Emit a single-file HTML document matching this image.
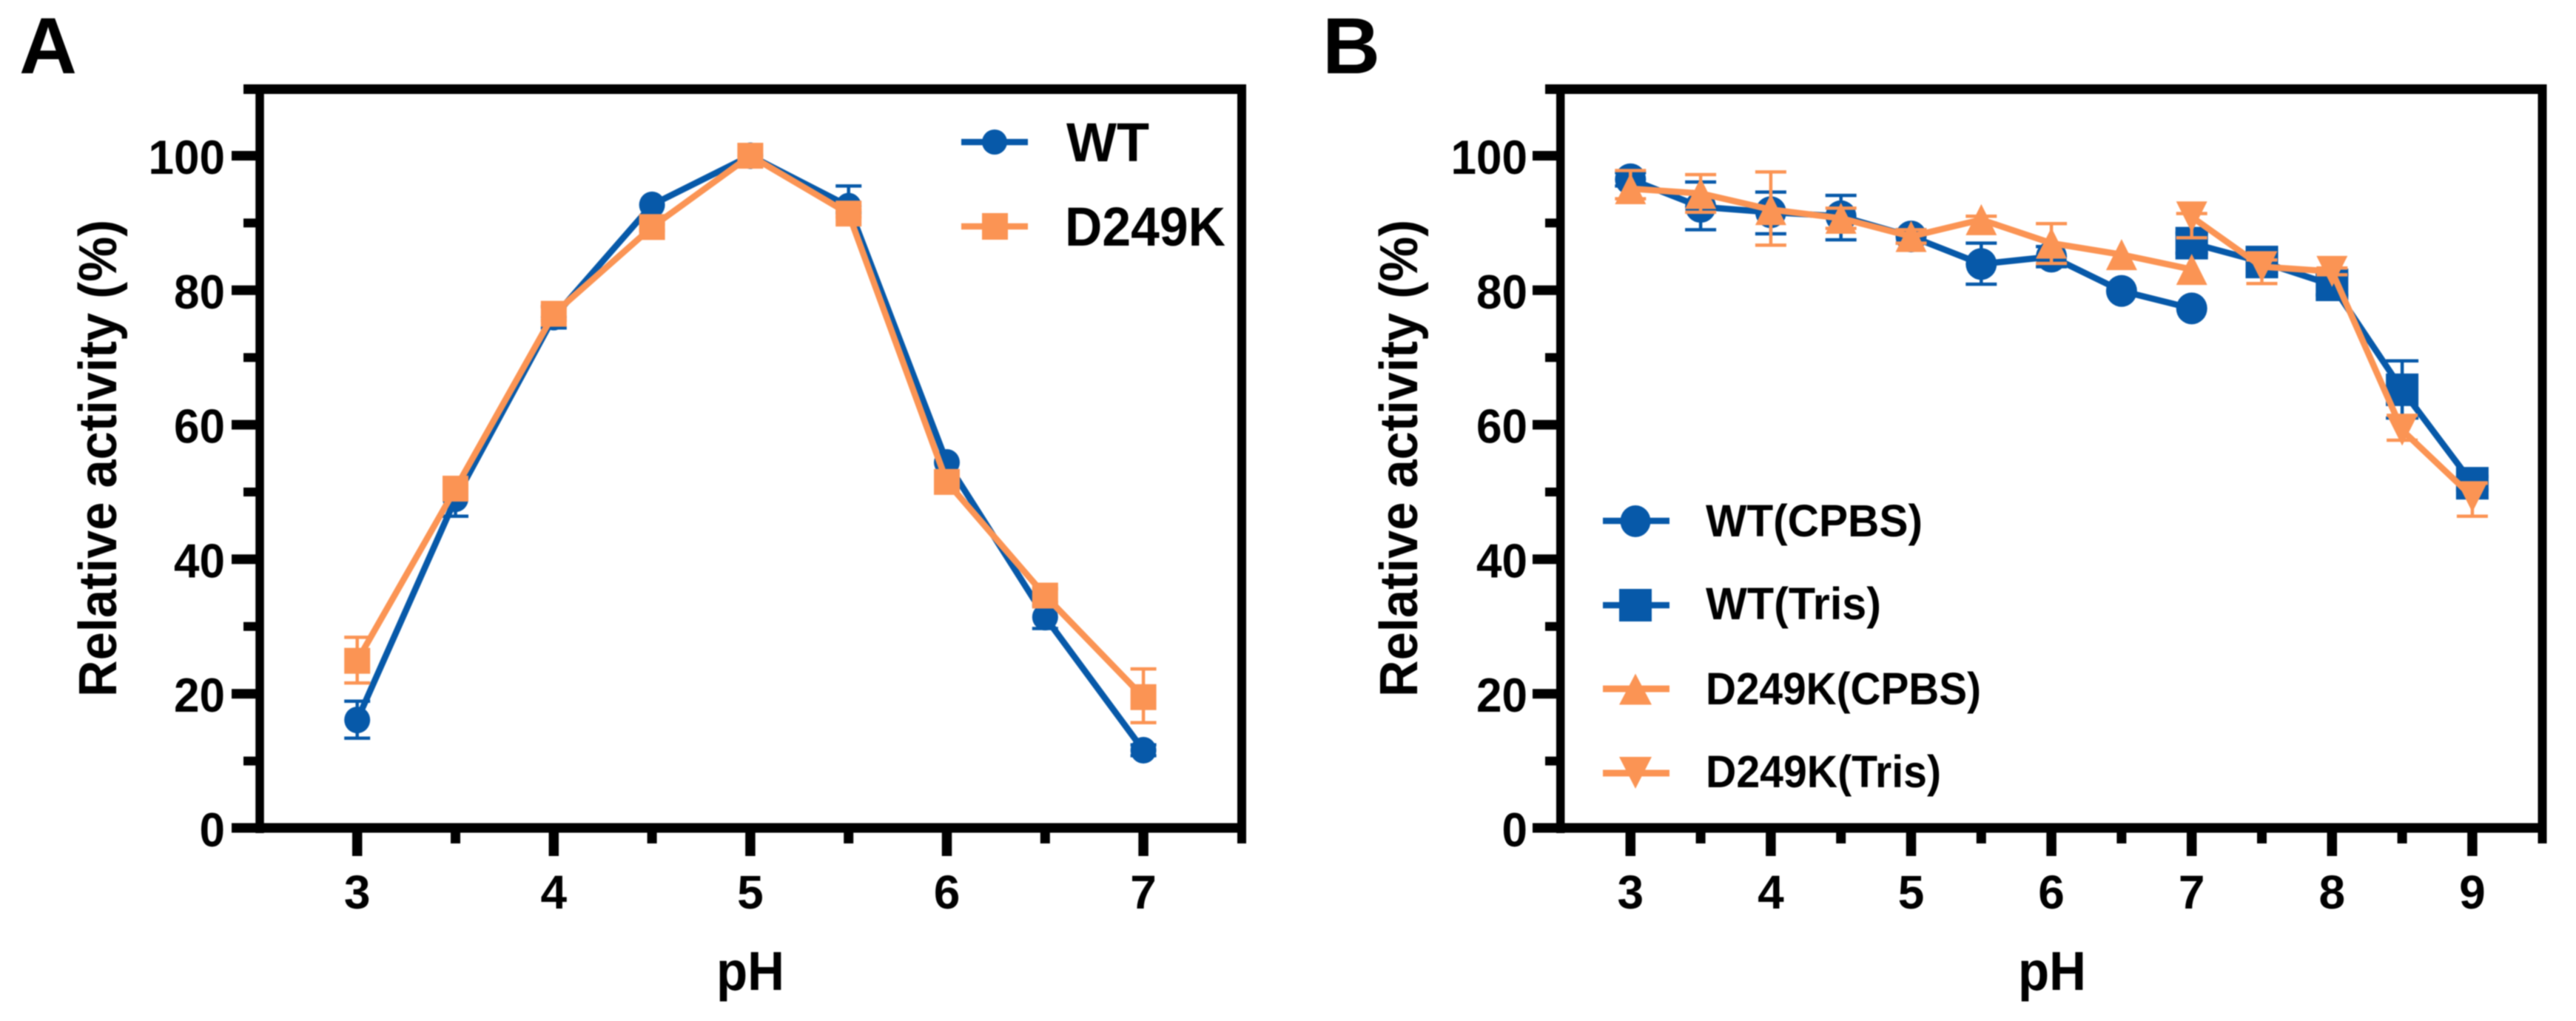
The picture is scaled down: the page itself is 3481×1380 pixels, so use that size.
<!DOCTYPE html>
<html lang="en">
<head>
<meta charset="utf-8">
<title>Relative activity vs pH</title>
<style>
  html, body { margin: 0; padding: 0; background: #ffffff; }
  svg { display: block; filter: blur(0.7px); }
  text { font-family: "Liberation Sans", sans-serif; font-weight: 700; fill: #000000; }
</style>
</head>
<body>
<svg id="figure" xmlns="http://www.w3.org/2000/svg" width="3481" height="1380" viewBox="0 0 3481 1380">
  <rect x="0" y="0" width="3481" height="1380" fill="#ffffff"/>

  <text x="26" y="99" font-size="108">A</text>
  <text x="1787" y="99" font-size="108">B</text>

  <text transform="translate(157,942) rotate(-90)" font-size="72" textLength="645" lengthAdjust="spacingAndGlyphs">Relative activity (%)</text>
  <text transform="translate(1915,942) rotate(-90)" font-size="72" textLength="645" lengthAdjust="spacingAndGlyphs">Relative activity (%)</text>

  <text x="968" y="1338" font-size="74" textLength="92" lengthAdjust="spacingAndGlyphs">pH</text>
  <text x="2727" y="1338" font-size="74" textLength="92" lengthAdjust="spacingAndGlyphs">pH</text>

  <g id="panel-a"></g>
  <g id="panel-b"></g>

  <g>
    <g>
      <line x1="1299" x2="1389" y1="192" y2="192" stroke="#0759a9" stroke-width="8.5"/>
      <circle cx="1344" cy="192" r="17" fill="#0759a9"/>
      <text x="1441" y="218" font-size="74" textLength="112" lengthAdjust="spacingAndGlyphs">WT</text>
    </g>
    <g>
      <line x1="1299" x2="1389" y1="306" y2="306" stroke="#fb9454" stroke-width="8.5"/>
      <rect x="1327" y="288" width="35" height="36" fill="#fb9454"/>
      <text x="1439" y="332" font-size="74" textLength="217" lengthAdjust="spacingAndGlyphs">D249K</text>
    </g>
  </g>

  <g>
    <g>
      <line x1="2166" x2="2256" y1="704" y2="704" stroke="#0759a9" stroke-width="8.5"/>
      <ellipse cx="2210" cy="704.5" rx="20.5" ry="21.5" fill="#0759a9"/>
      <text x="2305" y="725" font-size="61" textLength="293" lengthAdjust="spacingAndGlyphs">WT(CPBS)</text>
    </g>
    <g>
      <line x1="2166" x2="2256" y1="818" y2="818" stroke="#0759a9" stroke-width="8.5"/>
      <rect x="2188" y="796" width="44" height="44" fill="#0759a9"/>
      <text x="2305" y="837" font-size="61" textLength="237" lengthAdjust="spacingAndGlyphs">WT(Tris)</text>
    </g>
    <g>
      <line x1="2166" x2="2256" y1="931" y2="931" stroke="#fb9454" stroke-width="9"/>
      <polygon points="2210,910.5 2232,952.5 2188,952.5" fill="#fb9454"/>
      <text x="2305" y="952" font-size="61" textLength="372" lengthAdjust="spacingAndGlyphs">D249K(CPBS)</text>
    </g>
    <g>
      <line x1="2166" x2="2256" y1="1045" y2="1045" stroke="#fb9454" stroke-width="9"/>
      <polygon points="2188,1023 2232,1023 2210,1066" fill="#fb9454"/>
      <text x="2305" y="1064" font-size="61" textLength="318" lengthAdjust="spacingAndGlyphs">D249K(Tris)</text>
    </g>
  </g>
</svg>

<script>
// ---------- Shared axis labels ----------
var yMajorTicks = [0, 20, 40, 60, 80, 100];
var yMinorTicks = [10, 30, 50, 70, 90];

// ---------- Panel A data ----------
var phA = [3, 3.5, 4, 4.5, 5, 5.5, 6, 6.5, 7];
var xTicksA = [3, 4, 5, 6, 7];
var xMinorA = [3.5, 4.5, 5.5, 6.5];
var wtA = [16.1, 49, 76, 92.7, 100, 92.5, 54.4, 31.4, 11.6];
var wtAErrUp = [2.8, 2.6, 1.6, 0, 0, 3, 0, 1.7, 0.8];
var wtAErrDown = [2.7, 2.6, 1.6, 0, 0, 1, 0, 1.7, 0.8];
var d249kA = [24.9, 50.5, 76.5, 89.4, 100, 91.4, 51.5, 34.6, 19.5];
var d249kAErrUp = [3.5, 1.5, 1, 0.5, 0, 0.5, 1, 1, 4.2];
var d249kAErrDown = [3.3, 1.5, 1, 0.5, 0, 0.5, 1, 1, 3.8];

// ---------- Panel B data ----------
var xTicksB = [3, 4, 5, 6, 7, 8, 9];
var xMinorB = [3.5, 4.5, 5.5, 6.5, 7.5, 8.5];
var phCpbs = [3, 3.5, 4, 4.5, 5, 5.5, 6, 6.5, 7];
var phTris = [7, 7.5, 8, 8.5, 9];
var wtCpbs = [96.5, 92.4, 91.6, 91, 88, 83.9, 85, 79.9, 77.3];
var wtCpbsErrUp = [1, 3.7, 3, 3.1, 1, 3.1, 1.5, 0, 0];
var wtCpbsErrDown = [1, 3.4, 3.2, 3.5, 1, 3, 1.5, 0, 0];
var wtTris = [87, 84.2, 80.8, 65.2, 51.3];
var wtTrisErrUp = [1.5, 1.5, 1.5, 4.3, 1];
var wtTrisErrDown = [1.5, 1.5, 1.5, 4.2, 1];
var d249kCpbs = [95.1, 94.4, 92, 90.7, 88, 90.5, 87, 85.3, 83.1];
var d249kCpbsErrUp = [2.7, 2.8, 5.6, 1.5, 1, 0.5, 2.9, 0, 0];
var d249kCpbsErrDown = [1.5, 2.8, 5.3, 1.5, 1, 0.5, 3, 0, 0];
var d249kTris = [90.9, 83.5, 82.8, 59.2, 49.3];
var d249kTrisErrUp = [0.5, 1, 0.5, 2.2, 2];
var d249kTrisErrDown = [3.1, 2.5, 0.5, 1.5, 2.9];

var BLUE = '#0759a9';
var ORANGE = '#fb9454';
var NS = 'http://www.w3.org/2000/svg';

function yScale(v) { return 1119.5 - 9.09 * v; }
function makeXScale(x3, unit) { return function (ph) { return x3 + (ph - 3) * unit; }; }
var xA = makeXScale(482.7, 265.6);
var xB = makeXScale(2203.3, 189.6);

function el(tag, parent, attrs) {
  var node = document.createElementNS(NS, tag);
  for (var k in attrs) node.setAttribute(k, attrs[k]);
  parent.appendChild(node);
  return node;
}

function drawAxes(parent, cfg) {
  var black = '#000000';
  var left = el('line', parent, { x1: cfg.axisX, x2: cfg.axisX, y1: 114, y2: 1126, stroke: black, 'stroke-width': 11.5 });
  
  
  var top = el('line', parent, { x1: cfg.minorLeft, x2: cfg.right + 6, y1: 120.5, y2: 120.5, stroke: black, 'stroke-width': 13 });
  
  
  var right = el('line', parent, { x1: cfg.right, x2: cfg.right, y1: 114, y2: 1140, stroke: black, 'stroke-width': 12 });
  
  
  var bottom = el('line', parent, { x1: cfg.majorLeft, x2: cfg.right + 6, y1: 1119, y2: 1119, stroke: black, 'stroke-width': 13 });
  
  

  yMajorTicks.forEach(function (v) {
    var yy = yScale(v);
    if (v !== 0) {
      var t = el('line', parent, { x1: cfg.majorLeft, x2: cfg.axisX, y1: yy, y2: yy, stroke: black, 'stroke-width': 13 });
      
      
    }
    var s = String(v);
    var lw = s.length * 34.5;
    var lab = el('text', parent, { x: cfg.labelRight - lw, y: yy + 24.5, 'font-size': 65, textLength: lw, lengthAdjust: 'spacingAndGlyphs' });
    
    
    lab.textContent = s;
  });
  yMinorTicks.forEach(function (v) {
    var yy = yScale(v);
    var t = el('line', parent, { x1: cfg.minorLeft, x2: cfg.axisX, y1: yy, y2: yy, stroke: black, 'stroke-width': 12 });
    
    
  });
  cfg.xTicks.forEach(function (ph) {
    var xx = cfg.x(ph);
    var t = el('line', parent, { x1: xx, x2: xx, y1: 1119, y2: 1157, stroke: black, 'stroke-width': 13.5 });
    
    
    var lab = el('text', parent, { x: xx, y: 1228, 'font-size': 64, 'text-anchor': 'middle' });
    
    
    lab.textContent = String(ph);
  });
  cfg.xMinor.forEach(function (ph) {
    var xx = cfg.x(ph);
    var t = el('line', parent, { x1: xx, x2: xx, y1: 1119, y2: 1140, stroke: black, 'stroke-width': 13 });
    
    
  });
}

function drawMarker(parent, shape, cx, cy, size, color) {
  var h = size / 2;
  var m;
  if (shape === 'circle') {
    m = el('ellipse', parent, { cx: cx, cy: cy, rx: h, ry: h + 0.5, fill: color });
  } else if (shape === 'square') {
    m = el('rect', parent, { x: cx - h, y: cy - h, width: size, height: size, fill: color });
  } else if (shape === 'up') {
    m = el('polygon', parent, { points: cx + ',' + (cy - h) + ' ' + (cx + h) + ',' + (cy + h) + ' ' + (cx - h) + ',' + (cy + h), fill: color });
  } else {
    m = el('polygon', parent, { points: (cx - h) + ',' + (cy - h) + ' ' + (cx + h) + ',' + (cy - h) + ' ' + cx + ',' + (cy + h), fill: color });
  }
  
  
}

function drawSeries(parent, s) {
  var g = el('g', parent, {});
  
  
  var pts = s.xs.map(function (ph, i) { return s.x(ph) + ',' + yScale(s.ys[i]); }).join(' ');
  var line = el('polyline', g, { points: pts, fill: 'none', stroke: s.color, 'stroke-width': 8.5, 'stroke-linejoin': 'round' });
  
  
  s.xs.forEach(function (ph, i) {
    var xx = s.x(ph);
    var hi = s.up[i], lo = s.down[i];
    if (hi > 0 || lo > 0) {
      var yHi = yScale(s.ys[i] + hi), yLo = yScale(s.ys[i] - lo);
      var half = s.size / 2;
      var eb = el('path', g, {
        d: 'M' + xx + ' ' + yHi + 'V' + yLo + 'M' + (xx - half) + ' ' + yHi + 'H' + (xx + half) + 'M' + (xx - half) + ' ' + yLo + 'H' + (xx + half),
        fill: 'none', stroke: s.color, 'stroke-width': 4.5
      });
      
      
    }
    drawMarker(g, s.shape, xx, yScale(s.ys[i]), s.size, s.color);
  });
}

var panelA = document.getElementById('panel-a');
var panelB = document.getElementById('panel-b');

drawAxes(panelA, { axisX: 351, right: 1678, majorLeft: 313, minorLeft: 329, labelRight: 304, x: xA, xTicks: xTicksA, xMinor: xMinorA });
drawAxes(panelB, { axisX: 2108.7, right: 3435.5, majorLeft: 2071, minorLeft: 2088, labelRight: 2064, x: xB, xTicks: xTicksB, xMinor: xMinorB });

drawSeries(panelA, { name: 'series-wt', x: xA, xs: phA, ys: wtA, up: wtAErrUp, down: wtAErrDown, color: BLUE, shape: 'circle', size: 35 });
drawSeries(panelA, { name: 'series-d249k', x: xA, xs: phA, ys: d249kA, up: d249kAErrUp, down: d249kAErrDown, color: ORANGE, shape: 'square', size: 35 });

drawSeries(panelB, { name: 'series-wt-cpbs', x: xB, xs: phCpbs, ys: wtCpbs, up: wtCpbsErrUp, down: wtCpbsErrDown, color: BLUE, shape: 'circle', size: 42 });
drawSeries(panelB, { name: 'series-wt-tris', x: xB, xs: phTris, ys: wtTris, up: wtTrisErrUp, down: wtTrisErrDown, color: BLUE, shape: 'square', size: 44 });
drawSeries(panelB, { name: 'series-d249k-cpbs', x: xB, xs: phCpbs, ys: d249kCpbs, up: d249kCpbsErrUp, down: d249kCpbsErrDown, color: ORANGE, shape: 'up', size: 42 });
drawSeries(panelB, { name: 'series-d249k-tris', x: xB, xs: phTris, ys: d249kTris, up: d249kTrisErrUp, down: d249kTrisErrDown, color: ORANGE, shape: 'down', size: 42 });
</script>
</body>
</html>
